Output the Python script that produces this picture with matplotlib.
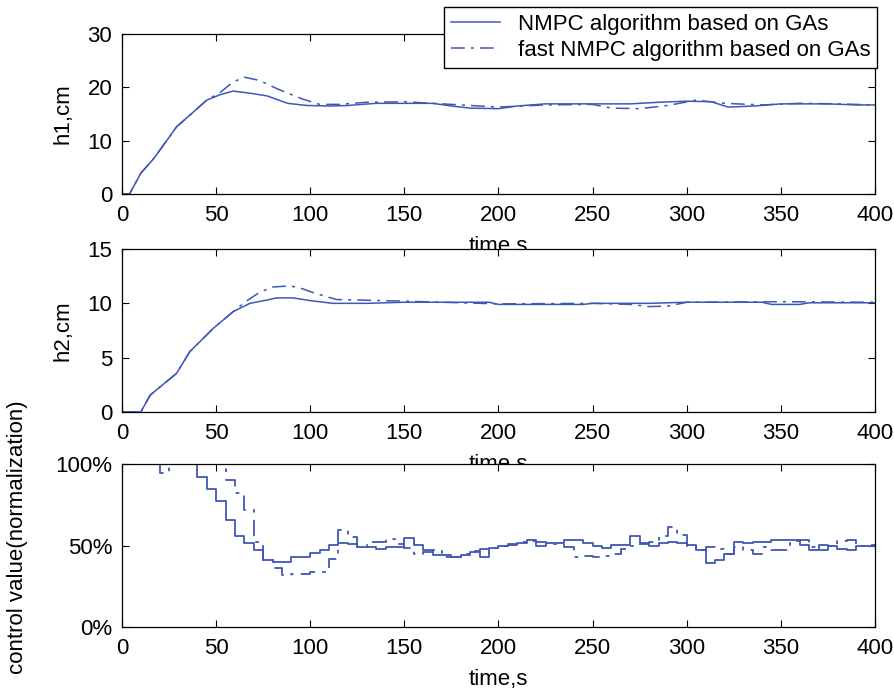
import numpy as np
import matplotlib
matplotlib.use('Agg')
import matplotlib.pyplot as plt

plt.rcParams['font.family'] = ['Liberation Sans', 'DejaVu Sans']
plt.rcParams['font.size'] = 16

# --- h1 (top) ---
t_h1_a = [0, 4, 10, 17, 29, 38, 45, 52, 59, 68, 77, 88, 98, 110, 120, 135, 150, 165, 175, 185,
          200, 210, 225, 250, 270, 285, 300, 313, 322, 336, 350, 375, 390, 400]
h1_a = [0, 0, 3.9, 6.7, 12.6, 15.4, 17.6, 18.6, 19.3, 18.9, 18.4, 17.0, 16.6, 16.5, 16.6, 17.0, 17.0, 17.0, 16.5, 16.1,
        16.0, 16.5, 16.9, 16.9, 16.9, 17.2, 17.4, 17.3, 16.3, 16.5, 16.9, 16.9, 16.7, 16.7]
t_h1_b = [0, 4, 10, 17, 29, 38, 45, 52, 59, 65, 73, 82, 88, 96, 105, 115, 130, 150, 175, 200,
          225, 250, 260, 275, 290, 305, 320, 340, 360, 380, 400]
h1_b = [0, 0, 3.9, 6.7, 12.6, 15.4, 17.6, 19.0, 21.0, 21.9, 21.3, 19.8, 18.9, 17.8, 16.8, 16.8, 17.2, 17.3, 16.8, 16.3,
        16.7, 16.8, 16.1, 16.0, 16.6, 17.6, 17.0, 16.7, 17.0, 16.9, 16.7]

# --- h2 (middle) ---
t_h2_a = [0, 4, 10, 15, 29, 36, 48.5, 59, 68, 77, 82, 91, 100, 112, 130, 150, 175, 195, 200, 245,
          250, 280, 300, 340, 345, 360, 365, 400]
h2_a = [0, 0, 0, 1.56, 3.56, 5.55, 7.7, 9.23, 10.0, 10.3, 10.5, 10.5, 10.25, 10.0, 10.0, 10.1, 10.1, 10.1, 9.9, 9.9,
        10.0, 10.0, 10.1, 10.1, 9.9, 9.9, 10.05, 10.05]
t_h2_b = [0, 4, 10, 15, 29, 36, 48.5, 59, 66, 73, 80, 89, 94, 103, 114, 127, 150, 200, 250, 270,
          280, 290, 300, 350, 400]
h2_b = [0, 0, 0, 1.56, 3.56, 5.55, 7.7, 9.23, 10.2, 11.0, 11.5, 11.6, 11.45, 10.9, 10.35, 10.3, 10.2, 9.95, 10.0, 9.9,
        9.7, 9.75, 10.1, 10.15, 10.1]

# --- control value, one value per 5 s step (0..395) ---
t_u = np.arange(0, 400, 5)
u_a = [100, 100, 100, 100, 100, 100, 100, 100, 92, 84.5,
       77, 65.6, 56, 51.7, 47.2, 41, 40, 40, 43, 43,
       45.5, 47.5, 50.3, 51.7, 51, 49, 49, 48, 49, 49,
       54.4, 50.6, 47, 44, 44, 43, 44, 46, 43, 48.5,
       49.5, 50.5, 51.5, 53.5, 49.5, 51.5, 51.5, 53.5, 53.5, 51.5,
       49.5, 48.5, 50.5, 50.5, 55.6, 51.5, 49.5, 51.5, 52.3, 51.5,
       50.5, 47, 39, 41, 45, 52.3, 51.5, 52.3, 52.3, 53.5,
       53.5, 53.5, 50.5, 47, 50.5, 49.5, 48, 47, 49.5, 49.5]
u_b = [100, 100, 100, 100, 94.5, 100, 100, 100, 100, 100,
       100, 90, 82, 72, 52, 41, 36.5, 32, 32.5, 32.5,
       34, 34, 42, 59.5, 55, 49, 52, 52, 54, 51,
       48.5, 44.5, 46, 47, 43, 43, 45, 46.5, 48, 48.5,
       50, 51, 52, 53, 52, 51, 51, 49, 43, 43.5,
       43, 43.5, 44.5, 48, 50, 51, 52, 55.6, 61.6, 56.7,
       50, 47, 49, 48, 45, 49, 47, 45, 49, 47,
       47, 53, 53.5, 49, 47, 50, 52.5, 53.5, 50, 50.5]

labels = ['NMPC algorithm based on GAs', 'fast NMPC algorithm based on GAs']

col = '#3f57b5'
dash = (0, (9, 4, 2, 4))
W, H = 895, 691

fig = plt.figure(figsize=(W/100, H/100), dpi=100)

def box(top, bot):
    return [122/W, (H-bot)/H, 753/W, (bot-top)/H]

ax1 = fig.add_axes(box(34, 194))
ax2 = fig.add_axes(box(249, 412))
ax3 = fig.add_axes(box(464, 627))

l1, = ax1.plot(t_h1_a, h1_a, color=col, lw=1.1)
l2, = ax1.plot(t_h1_b, h1_b, color=col, lw=1.1, linestyle=dash)
ax2.plot(t_h2_a, h2_a, color=col, lw=1.1)
ax2.plot(t_h2_b, h2_b, color=col, lw=1.1, linestyle=dash)
ax3.step(list(t_u) + [400], u_a + [u_a[-1]], where='post', color=col, lw=1.3)
ax3.step(list(t_u) + [400], u_b + [u_b[-1]], where='post', color=col, lw=1.3, linestyle=dash)

ax1.set_ylim(0, 30)
ax1.set_yticks([0, 10, 20, 30])
ax2.set_ylim(0, 15)
ax2.set_yticks([0, 5, 10, 15])
ax3.set_ylim(0, 100)
ax3.set_yticks([0, 50, 100])
ax3.set_yticklabels(['0%', '50%', '100%'])

for ax in (ax1, ax2, ax3):
    ax.set_xlim(0, 400)
    ax.set_xticks(range(0, 401, 50))
    ax.tick_params(direction='in', top=True, right=True, length=5, width=0.8)
    ax.tick_params(axis='y', pad=7)
    ax.tick_params(axis='x', pad=8)
    ax.set_xlabel('time,s', labelpad=7)
    for s in ax.spines.values():
        s.set_linewidth(0.9)

ax1.set_ylabel('h1,cm')
ax2.set_ylabel('h2,cm')
ax3.set_ylabel('control value(normalization)')
ax1.yaxis.set_label_coords(-0.064, 0.5)
ax2.yaxis.set_label_coords(-0.064, 0.5)
ax3.yaxis.set_label_coords(-0.125, 0.55)

fig.legend([l1, l2], labels, loc='upper right', bbox_to_anchor=(877/W, 1-7/H),
           frameon=True, fancybox=False, edgecolor='black', framealpha=1,
           borderaxespad=0, handlelength=2.2, borderpad=0.3, labelspacing=0.25)

fig.savefig('out.png', dpi=100)
